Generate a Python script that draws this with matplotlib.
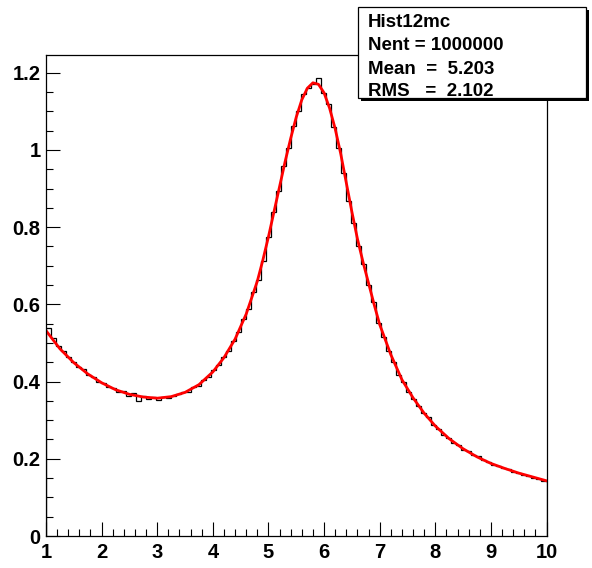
import numpy as np
import matplotlib
matplotlib.use("Agg")
import matplotlib.pyplot as plt
from matplotlib.patches import Rectangle
from matplotlib.ticker import MultipleLocator

# histogram: 100 bins between 1 and 10
X_MIN, X_MAX, N_BINS = 1.0, 10.0, 100

hist_values = [
    0.538, 0.512, 0.492, 0.478, 0.463, 0.452, 0.437, 0.432, 0.416, 0.412,
    0.400, 0.397, 0.387, 0.383, 0.372, 0.376, 0.363, 0.371, 0.350, 0.362,
    0.356, 0.361, 0.352, 0.360, 0.357, 0.362, 0.368, 0.372, 0.374, 0.386,
    0.389, 0.404, 0.412, 0.429, 0.442, 0.463, 0.480, 0.504, 0.528, 0.562,
    0.588, 0.632, 0.664, 0.712, 0.774, 0.840, 0.893, 0.958, 1.006, 1.062,
    1.100, 1.145, 1.160, 1.170, 1.186, 1.148, 1.118, 1.060, 1.005, 0.940,
    0.868, 0.810, 0.752, 0.705, 0.650, 0.605, 0.552, 0.516, 0.478, 0.452,
    0.418, 0.398, 0.374, 0.356, 0.338, 0.318, 0.307, 0.287, 0.278, 0.262,
    0.255, 0.240, 0.236, 0.224, 0.219, 0.210, 0.206, 0.197, 0.191, 0.185,
    0.181, 0.176, 0.174, 0.167, 0.163, 0.158, 0.155, 0.150, 0.147, 0.143,
]

# fitted curve
fit_x = [
    1.0, 1.25, 1.5, 1.75, 2.0, 2.25, 2.5, 2.75, 3.0, 3.25, 3.5, 3.75,
    4.0, 4.2, 4.4, 4.6, 4.8, 4.9, 5.0, 5.1, 5.2, 5.3, 5.4, 5.5, 5.6,
    5.7, 5.8, 5.9, 6.0, 6.1, 6.2, 6.3, 6.4, 6.5, 6.6, 6.7, 6.8, 6.9,
    7.0, 7.2, 7.4, 7.6, 7.8, 8.0, 8.25, 8.5, 8.75, 9.0, 9.25, 9.5,
    9.75, 10.0,
]
fit_y = [
    0.532, 0.485, 0.449, 0.420, 0.397, 0.379, 0.367, 0.360, 0.357, 0.361,
    0.372, 0.392, 0.425, 0.462, 0.510, 0.575, 0.660, 0.715, 0.775, 0.840,
    0.905, 0.970, 1.030, 1.085, 1.130, 1.160, 1.174, 1.170, 1.148, 1.108,
    1.055, 0.990, 0.915, 0.840, 0.770, 0.710, 0.655, 0.600, 0.548, 0.470,
    0.405, 0.358, 0.318, 0.285, 0.252, 0.226, 0.205, 0.188, 0.175, 0.163,
    0.153, 0.143,
]

x_ticks = [1, 2, 3, 4, 5, 6, 7, 8, 9, 10]
y_ticks = [0, 0.2, 0.4, 0.6, 0.8, 1.0, 1.2]
y_tick_labels = ["0", "0.2", "0.4", "0.6", "0.8", "1", "1.2"]

stats_lines = ["Hist12mc", "Nent = 1000000", "Mean  =  5.203", "RMS   =  2.102"]

plt.rcParams["font.family"] = ["Liberation Sans", "DejaVu Sans"]

W, H = 592, 568
fig = plt.figure(figsize=(W / 100, H / 100), dpi=100)
ax = fig.add_axes([46 / W, 1 - 536 / H, (546.5 - 46) / W, (536 - 55) / H])

edges = np.linspace(X_MIN, X_MAX, N_BINS + 1)
ax.stairs(hist_values, edges, color="black", linewidth=0.9, baseline=0)
ax.plot(fit_x, fit_y, color="#ff0000", linewidth=2.0)

ax.set_xlim(X_MIN, X_MAX)
ax.set_ylim(0, 1.246)
ax.set_xticks(x_ticks)
ax.set_yticks(y_ticks)
ax.set_yticklabels(y_tick_labels)
ax.xaxis.set_minor_locator(MultipleLocator(0.2))
ax.yaxis.set_minor_locator(MultipleLocator(0.05))
ax.tick_params(which="major", direction="in", length=10, width=0.8,
               labelsize=14.5, top=False, right=False)
ax.tick_params(which="minor", direction="in", length=5, width=0.8,
               top=False, right=False)
ax.tick_params(axis="x", pad=5)
ax.tick_params(axis="y", pad=4)
for lab in ax.get_xticklabels() + ax.get_yticklabels():
    lab.set_fontweight("bold")
for sp in ax.spines.values():
    sp.set_linewidth(0.9)

# stats box with shadow
bx0, bx1, by0, by1 = 358, 586, 7, 98
sh = 3
fig.add_artist(Rectangle(((bx0 + sh) / W, 1 - (by1 + sh) / H), (bx1 - bx0) / W,
                         (by1 - by0) / H, transform=fig.transFigure,
                         facecolor="black", edgecolor="none", zorder=10))
fig.add_artist(Rectangle((bx0 / W, 1 - by1 / H), (bx1 - bx0) / W,
                         (by1 - by0) / H, transform=fig.transFigure,
                         facecolor="white", edgecolor="black", linewidth=0.9,
                         zorder=11))
line_y = [22.7, 46, 69.3, 91.7]
for txt, yy in zip(stats_lines, line_y):
    fig.text(368 / W, 1 - yy / H, txt, fontsize=13.5, fontweight="bold",
             va="center", ha="left", zorder=12)

fig.savefig("out.png", dpi=100, facecolor="white")
